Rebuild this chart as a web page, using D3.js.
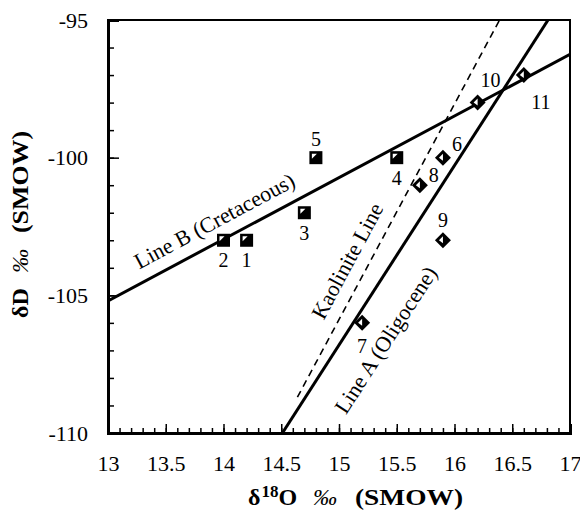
<!DOCTYPE html>
<html>
<head>
<meta charset="utf-8">
<script src="https://cdn.jsdelivr.net/npm/d3@7"></script>
<style>
  body { margin: 0; background: #fff; }
  text { font-family: "Liberation Serif", "Times New Roman", serif; fill: #000; }
</style>
</head>
<body>
<div id="chart"></div>
<script>
// sample numbers and isotope values
const sampleIds = [1, 2, 3, 4, 5, 6, 7, 8, 9, 10, 11];
const d18O = [14.2, 14.0, 14.7, 15.5, 14.8, 15.9, 15.2, 15.7, 15.9, 16.2, 16.6];
const dD = [-103, -103, -102, -100, -100, -100, -106, -101, -103, -98, -97];
const markerKind = ["square", "square", "square", "square", "square",
  "diamond", "diamond", "diamond", "diamond", "diamond", "diamond"];

// reference lines, endpoints [d18O, dD]
const lineNames = ["Line B (Cretaceous)", "Line A (Oligocene)", "Kaolinite Line"];
const lineBPoints = [[13, -105.2], [17, -96.25]];
const lineAPoints = [[14.51, -110], [16.81, -95]];
const kaolinitePoints = [[14.64, -108.7], [16.39, -95]];

const xTicks = [13, 13.5, 14, 14.5, 15, 15.5, 16, 16.5, 17];
const yTicks = [-110, -105, -100, -95];

const width = 580, height = 518;
const margin = { top: 20, right: 10, bottom: 85, left: 108 };

const svg = d3.select("#chart").append("svg")
  .attr("width", width)
  .attr("height", height);

const x = d3.scaleLinear().domain([13, 17]).range([margin.left, width - margin.right]);
const y = d3.scaleLinear().domain([-110, -95]).range([height - margin.bottom, margin.top]);

svg.append("clipPath").attr("id", "plot-clip")
  .append("rect")
  .attr("x", x(13)).attr("y", y(-95))
  .attr("width", x(17) - x(13)).attr("height", y(-110) - y(-95));

// frame: top and right thin, left and bottom heavy
svg.append("rect")
  .attr("x", x(13)).attr("y", y(-95))
  .attr("width", x(17) - x(13)).attr("height", y(-110) - y(-95))
  .attr("fill", "none").attr("stroke", "#000").attr("stroke-width", 2);

const fmt = d => String(d); // plain hyphen minus like the original

// minor + major ticks, pointing inward
const xMinor = d3.range(130, 171).map(d => d / 10);
svg.append("g").attr("transform", `translate(0,${y(-110)})`)
  .call(d3.axisBottom(x).tickValues(xMinor).tickSize(-5).tickFormat(""))
  .call(g => g.select(".domain").remove());
const xAxis = svg.append("g").attr("transform", `translate(0,${y(-110)})`)
  .call(d3.axisBottom(x).tickValues(xTicks).tickSize(-9).tickPadding(22).tickFormat(fmt));
xAxis.attr("font-family", "Liberation Serif").attr("font-size", 22);
xAxis.select(".domain").attr("stroke-width", 3);

const yMinor = d3.range(-110, -94);
svg.append("g").attr("transform", `translate(${x(13)},0)`)
  .call(d3.axisLeft(y).tickValues(yMinor).tickSize(-6).tickFormat(""))
  .call(g => g.select(".domain").remove());
const yAxis = svg.append("g").attr("transform", `translate(${x(13)},0)`)
  .call(d3.axisLeft(y).tickValues(yTicks).tickSize(-11).tickPadding(20).tickFormat(fmt));
yAxis.attr("font-family", "Liberation Serif").attr("font-size", 22);
yAxis.select(".domain").attr("stroke-width", 3);
svg.selectAll(".tick line").attr("stroke-width", 1.5);

// reference lines
const lineGen = d3.line().x(d => x(d[0])).y(d => y(d[1]));
const lines = svg.append("g").attr("clip-path", "url(#plot-clip)");
lines.append("path").datum(lineBPoints)
  .attr("d", lineGen).attr("fill", "none").attr("stroke", "#000").attr("stroke-width", 3);
lines.append("path").datum(lineAPoints)
  .attr("d", lineGen).attr("fill", "none").attr("stroke", "#000").attr("stroke-width", 3);
lines.append("path").datum(kaolinitePoints)
  .attr("d", lineGen).attr("fill", "none").attr("stroke", "#000")
  .attr("stroke-width", 1.6).attr("stroke-dasharray", "7,5");

// line labels, rotated along each line
function lineLabel(pts, name, atY, dy) {
  const dx = x(pts[1][0]) - x(pts[0][0]);
  const dyPix = y(pts[1][1]) - y(pts[0][1]);
  const angle = Math.atan2(dyPix, dx) * 180 / Math.PI;
  const t = (atY - pts[0][1]) / (pts[1][1] - pts[0][1]);
  const px = x(pts[0][0] + t * (pts[1][0] - pts[0][0]));
  const py = y(atY);
  svg.append("text")
    .attr("transform", `translate(${px},${py}) rotate(${angle})`)
    .attr("text-anchor", "middle")
    .attr("dy", dy)
    .style("font-size", "22px")
    .text(name);
}
lineLabel(lineBPoints, lineNames[0], -102.95, -13);
lineLabel(lineAPoints, lineNames[1], -105.9, 44);
lineLabel(kaolinitePoints, lineNames[2], -104.1, -13);

// sample markers
const samples = sampleIds.map((id, i) => ({ id, x: d18O[i], y: dD[i], kind: markerKind[i] }));
const mk = svg.append("g").selectAll("g")
  .data(samples).enter().append("g")
  .attr("transform", d => `translate(${x(d.x)},${y(d.y)})`);

mk.filter(d => d.kind === "square").append("rect")
  .attr("x", -6.5).attr("y", -6.5).attr("width", 13).attr("height", 13).attr("fill", "#000");
mk.filter(d => d.kind === "square").append("path")
  .attr("d", "M-4,-4L1,-4L-4,1Z").attr("fill", "#fff");
mk.filter(d => d.kind === "diamond").append("path")
  .attr("d", "M0,-8L8,0L0,8L-8,0Z").attr("fill", "#000");
mk.filter(d => d.kind === "diamond").append("path")
  .attr("d", "M-4,0L0,-4L0,3Z").attr("fill", "#fff");

// sample number offsets (pixels from marker)
const labelOffset = {
  1: [0, 27], 2: [0, 27], 3: [0, 27], 4: [0, 27], 5: [0, -12],
  6: [14, -7], 7: [0, 30], 8: [14, -3], 9: [0, -13], 10: [3, -16], 11: [17, 34]
};
mk.append("text")
  .attr("x", d => labelOffset[d.id][0])
  .attr("y", d => labelOffset[d.id][1])
  .attr("text-anchor", d => d.id === 10 ? "start" : "middle")
  .style("font-size", "20px")
  .text(d => d.id);

// axis titles
const xt = svg.append("text")
  .attr("y", 505)
  .style("font-size", "24px").style("font-weight", "bold");
xt.append("tspan").attr("x", 248).text("δ");
xt.append("tspan").attr("dy", -8).attr("dx", 1).style("font-size", "17px").text("18");
xt.append("tspan").attr("dy", 8).text("O");
xt.append("tspan").attr("x", 313).style("font-style", "italic").style("font-weight", "normal").text("‰");
xt.append("tspan").attr("x", 355).attr("textLength", 108)
  .attr("lengthAdjust", "spacingAndGlyphs").text("(SMOW)");

const yt = svg.append("text")
  .attr("transform", "translate(28,318) rotate(-90)")
  .style("font-size", "24px").style("font-weight", "bold");
yt.append("tspan").attr("x", 0).text("δD");
yt.append("tspan").attr("x", 45).style("font-style", "italic").style("font-weight", "normal").text("‰");
yt.append("tspan").attr("x", 85).attr("textLength", 102)
  .attr("lengthAdjust", "spacingAndGlyphs").text("(SMOW)");
</script>
</body>
</html>
